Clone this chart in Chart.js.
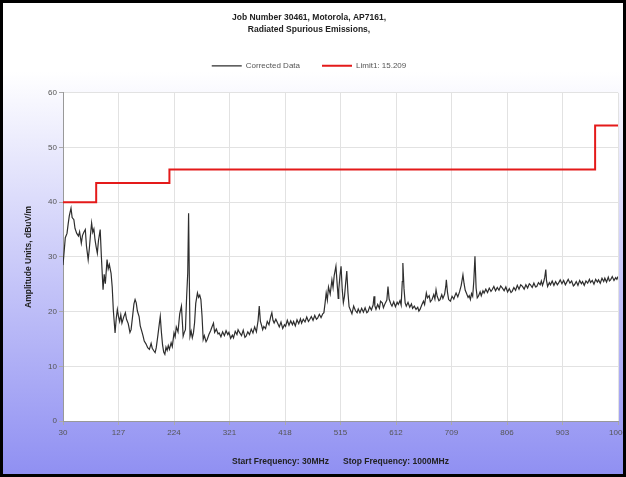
<!DOCTYPE html>
<html>
<head>
<meta charset="utf-8">
<script src="https://cdn.jsdelivr.net/npm/chart.js@4"></script>
<style>
  html, body { margin: 0; padding: 0; background: #fff; }
  #wrap { width: 626px; height: 477px; position: relative; }
</style>
</head>
<body>
<div id="wrap"><canvas id="grafica" width="626" height="477"></canvas></div>
<script>
const chartTitle = ["Job Number 30461, Motorola, AP7161,", "Radiated Spurious Emissions,"];
const yTitle = "Amplitude Units, dBuV/m";
const xTitle = "Start Frequency: 30MHz      Stop Frequency: 1000MHz";

const xTicks = [30, 127, 224, 321, 418, 515, 612, 709, 806, 903, 1000];
const yTicks = [0, 10, 20, 30, 40, 50, 60];

// FCC 15.209 limit, corner points
const limitFreq  = [30, 88, 88, 216, 216, 960, 960, 1000];
const limitLevel = [40, 40, 43.5, 43.5, 46, 46, 54, 54];

const dataFreq = [
  30, 32, 34, 37, 39, 41, 44, 46, 49, 51, 54, 57, 59, 62, 64, 66, 69, 71, 74, 76,
  78, 80, 82, 84, 86, 88, 90, 92, 95, 97, 100, 102, 104, 107, 109, 111, 114, 116, 118, 121,
  123, 125, 127, 129, 131, 133, 136, 139, 141, 144, 147, 149, 152, 154, 156, 158, 160, 163, 165, 168,
  170, 172, 175, 178, 181, 184, 186, 189, 191, 193, 196, 198, 200, 202, 204, 206, 208, 210, 212, 214,
  216, 219, 221, 224, 226, 228, 231, 234, 237, 239, 240, 242, 244, 246, 248, 249.5, 251, 252, 254, 256,
  258, 260, 262, 265, 267, 269, 271, 273, 275, 277, 280, 282, 285, 288, 290, 293, 295, 298, 301, 303,
  306, 309, 312, 315, 318, 320, 323, 326, 328, 331, 334, 336, 339, 342, 345, 348, 350, 353, 356, 359,
  362, 365, 368, 371, 373, 375, 377, 379, 381, 384, 387, 390, 393, 395, 397, 399, 402, 405, 408, 411,
  414, 417, 419, 422, 425, 428, 431, 433, 436, 439, 442, 445, 447, 450, 453, 456, 459, 461, 464, 467,
  470, 473, 475, 478, 481, 484, 486, 488, 490, 492, 494, 497, 500, 502, 504, 507, 509, 511, 512, 514,
  516, 518, 520, 522, 524, 526, 528, 530, 532, 535, 538, 541, 544, 546, 549, 552, 555, 558, 561, 563,
  566, 569, 572, 573.6, 575, 577, 580, 583, 585, 588, 590, 593, 596, 598, 600, 603, 605, 608, 611, 614,
  616, 619, 621, 623, 624, 626, 628, 630, 633, 636, 639, 641, 644, 647, 650, 652, 654, 657, 660, 662,
  665, 667, 670, 672, 675, 678, 680, 682, 684, 687, 689, 692, 694, 697, 699, 700, 702, 704, 707, 710,
  713, 715, 717, 720, 723, 726, 729, 731, 733, 735, 738, 740, 742, 744, 746, 748, 750, 752, 754, 756,
  759, 761, 764, 766, 769, 772, 775, 778, 780, 783, 786, 789, 792, 795, 798, 801, 804, 807, 810, 813,
  815, 818, 821, 824, 827, 830, 833, 836, 839, 842, 845, 847, 850, 853, 856, 858, 861, 864, 866, 868,
  870, 872, 873.8, 875, 877, 880, 882, 885, 888, 891, 894, 896, 899, 902, 905, 908, 910, 913, 916, 919,
  922, 924, 927, 930, 933, 936, 938, 941, 944, 947, 950, 952, 955, 958, 961, 964, 966, 969, 972, 975,
  977, 980, 983, 985, 987, 990, 993, 996, 998, 1000
];
const dataLevel = [
  28.5, 31, 33.5, 34.3, 36, 37.5, 38.9, 37.2, 36.8, 35.2, 34.3, 33.8, 34.6, 32.5, 33.9, 34.4, 35, 32, 29.5, 31.5,
  34, 36.2, 34.5, 35.1, 33.1, 31.8, 30.7, 33, 35, 30.2, 24, 26.8, 25.1, 29.5, 27.8, 28.6, 27, 24.5, 20.2, 16.1,
  18.7, 20.4, 19.1, 18.2, 19.4, 17.9, 19, 19.8, 18.6, 17.8, 16.2, 16.7, 19.5, 21.4, 22.2, 21.6, 20.1, 19.1, 17.4, 16.3,
  15.5, 14.6, 14.1, 13.4, 13.1, 14.2, 13.3, 12.8, 12.5, 13.4, 15.8, 17.5, 19.1, 16.2, 13.9, 12.6, 12.2, 13.5, 12.9, 13.8,
  13.1, 14.3, 13.6, 16.1, 15.4, 17.2, 16.3, 19.6, 21, 17.4, 15.5, 16.2, 16.7, 22.5, 27, 38, 24, 15.5, 16.4, 15.2,
  16.1, 18, 21.5, 23.4, 22.6, 23, 22.2, 19.2, 14.9, 15.6, 14.5, 14.9, 15.8, 16.5, 17.1, 17.9, 16.2, 16.8, 15.9, 16.1,
  15.4, 16.3, 15.6, 16.5, 15.8, 16.2, 15.1, 15.7, 15.2, 16.4, 15.8, 16.7, 16.1, 15.6, 16.6, 15.3, 15.5, 16.3, 15.8, 16.8,
  16.1, 17.2, 16.3, 18.4, 21, 18.2, 17.5, 16.7, 17.3, 16.9, 18.2, 17.6, 19.1, 19.8, 18.4, 17.9, 18.6, 17.9, 17.2, 18.1,
  16.9, 17.6, 17.3, 18.4, 17.5, 18.3, 17.6, 18.2, 17.4, 18.5, 17.8, 18.7, 17.9, 18.6, 18.1, 19, 18.2, 18.5, 19.1, 18.4,
  19.3, 18.6, 18.8, 19.5, 18.9, 19.6, 19.8, 21.5, 23.4, 22.1, 24.5, 23.2, 25.8, 24.4, 26.6, 28.3, 25.3, 22.4, 24, 26.5,
  28.3, 24.1, 21.6, 22.8, 25.2, 27.4, 23.5, 20.9, 20.4, 19.6, 21, 20.2, 19.8, 20.5, 19.8, 20.6, 19.9, 20.7, 19.8, 20,
  20.9, 20.3, 21.2, 22.8, 21.1, 20.4, 21.3, 20.6, 21.9, 21.6, 20.7, 21.5, 22.1, 24.6, 22.3, 21.4, 21, 21.8, 20.9, 21.7,
  21.3, 22, 21.2, 25.5, 28.9, 24.2, 21.6, 21, 21.7, 20.8, 21.4, 20.6, 21, 20.4, 20.8, 20.1, 20.4, 21.2, 21.9, 21.3,
  23.4, 22.5, 22.9, 21.8, 22.2, 23.1, 22.3, 24, 22.8, 22, 22.2, 23.1, 22.4, 23.2, 24.6, 25.8, 23.5, 22.2, 21.9, 22.8,
  22.3, 22.9, 23.4, 22.7, 23.6, 24.8, 26.7, 25.1, 23.9, 23.4, 22.6, 22.9, 22.2, 23.3, 22.8, 25.6, 30.1, 24.3, 22.5, 22.8,
  23.6, 22.9, 23.8, 23.4, 24.1, 23.5, 24.3, 23.7, 24, 24.6, 23.8, 24.4, 23.9, 24.7, 24.3, 23.8, 24.5, 23.6, 24.2, 23.5,
  23.7, 24.4, 23.9, 24.8, 24.1, 24.9, 24.6, 24.1, 24.9, 24.3, 25.1, 24.9, 24.4, 25.2, 24.5, 24.6, 25.3, 24.9, 25.6, 24.8,
  25.4, 26.3, 27.7, 25.7, 24.6, 25.3, 24.9, 25.6, 24.8, 25.5, 24.9, 25.2, 25.8, 25.1, 25.7, 24.9, 25.3, 25.9, 25.2, 25.6,
  24.7, 24.9, 25.5, 24.8, 25.7, 25.1, 25.5, 24.8, 25.6, 25.2, 25.9, 25.3, 25.7, 25, 25.9, 25.4, 25.8, 25.2, 26.1, 25.5,
  26.1, 25.4, 26.3, 25.6, 25.8, 26.4, 25.7, 26.2, 25.9, 26.4
];

const fuente = "'Liberation Sans', Arial, sans-serif";

// background gradient, white plot area and outer frame
const fondo = {
  id: 'fondo',
  beforeDraw(chart) {
    const ctx = chart.ctx;
    const a = chart.chartArea;
    ctx.save();
    const g = ctx.createLinearGradient(0, 0, 0, chart.height);
    g.addColorStop(0, '#ffffff');
    g.addColorStop(0.15, '#ffffff');
    g.addColorStop(1, '#8f8ff2');
    ctx.fillStyle = g;
    ctx.fillRect(0, 0, chart.width, chart.height);
    ctx.fillStyle = '#ffffff';
    ctx.fillRect(a.left, a.top, a.right - a.left, a.bottom - a.top);
    ctx.restore();
  },
  afterDraw(chart) {
    const ctx = chart.ctx;
    ctx.save();
    ctx.strokeStyle = '#000';
    ctx.lineWidth = 3;
    ctx.strokeRect(1.5, 1.5, chart.width - 3, chart.height - 3);
    ctx.restore();
  }
};

const ctx = document.getElementById('grafica');

const chart = new Chart(ctx, {
  type: 'line',
  data: {
    datasets: [{
      label: 'Corrected Data',
      data: dataFreq.map((f, i) => ({x: f, y: dataLevel[i]})),
      borderColor: '#2e2e2e',
      backgroundColor: '#2e2e2e',
      borderWidth: 1.2,
      pointRadius: 0,
      tension: 0
    }, {
      label: 'Limit1: 15.209',
      data: limitFreq.map((f, i) => ({x: f, y: limitLevel[i]})),
      borderColor: '#e41a1a',
      backgroundColor: '#e41a1a',
      borderWidth: 2,
      pointRadius: 0,
      tension: 0
    }]
  },
  options: {
    responsive: false,
    animation: false,
    layout: { padding: { top: 0, right: 8, bottom: 0, left: 0 } },
    plugins: {
      title: {
        display: true,
        text: chartTitle,
        color: '#222',
        font: { family: fuente, size: 8.5, weight: 'bold', lineHeight: 1.4 },
        padding: { top: 12, bottom: 4 }
      },
      // empty subtitle under the legend = gap above the plot
      subtitle: {
        display: true,
        text: ' ',
        weight: 500,
        font: { size: 1, lineHeight: 1 },
        padding: { top: 12, bottom: 0 }
      },
      legend: {
        display: true,
        labels: {
          color: '#555',
          font: { family: fuente, size: 8 },
          boxWidth: 30,
          boxHeight: 0,
          padding: 22
        }
      },
      tooltip: { enabled: false }
    },
    scales: {
      x: {
        type: 'linear',
        min: 30,
        max: 1000,
        afterBuildTicks: s => { s.ticks = xTicks.map(v => ({value: v})); },
        afterFit: s => { s.height = 56; s.paddingLeft = 0; s.paddingRight = 0; },
        ticks: {
          color: '#555', font: { family: fuente, size: 8 }, padding: 3, maxRotation: 0, autoSkip: false,
          callback: v => String(v)
        },
        grid: { color: '#e2e2e2', tickLength: 4, tickColor: '#aaa' },
        border: { color: '#999' },
        title: {
          display: true,
          text: xTitle,
          color: '#222',
          font: { family: fuente, size: 8.5, weight: 'bold' },
          padding: { top: 4, bottom: 10 }
        }
      },
      y: {
        min: 0,
        max: 60,
        afterBuildTicks: s => { s.ticks = yTicks.map(v => ({value: v})); },
        afterFit: s => { s.width = 63; },
        ticks: { color: '#555', font: { family: fuente, size: 8 }, padding: 2 },
        grid: { color: '#e2e2e2', tickLength: 4, tickColor: '#aaa' },
        border: { color: '#999' },
        title: {
          display: true,
          text: yTitle,
          color: '#222',
          font: { family: fuente, size: 8.5, weight: 'bold' },
          padding: { top: 24, bottom: 0 }
        }
      }
    }
  },
  plugins: [fondo]
});
</script>
</body>
</html>
